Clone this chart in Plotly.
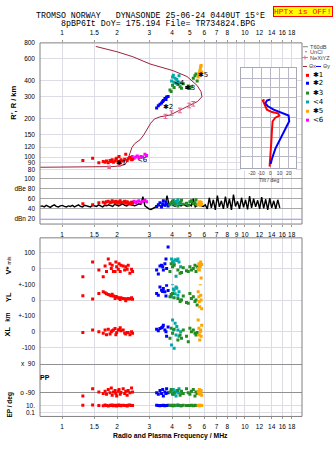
import numpy as np
import plotly.graph_objects as go

W, H = 335, 451

# ---------------- data ----------------
FREQ_TICKS = [1, 1.5, 2, 3, 4, 5, 6, 7, 8, 9, 10, 12, 14, 16, 18]
TOP_LABELS = ["1", "1.5", "2", "3", "4", "5", "6", "7", "8", "", "10", "12", "14", "16", "18"]
MID_LABELS = ["1", "1.5", "2", "3", "4", "5", "6", "7", "8", "9", "10", "12", "14", "16", "18"]
HEIGHT_TICKS = [80, 90, 100, 120, 150, 200, 300, 400, 600, 800]

# real-height / virtual profile (MHz, km)
profile_f = [0.76, 1.48, 1.9, 2.05, 2.2, 2.27, 2.33, 2.41, 2.5, 2.67, 2.8, 2.91, 3.05, 3.2, 3.43,
             3.89, 4.41, 5.0, 5.5, 5.82, 5.75, 5.47, 4.82, 4.04, 3.43, 3.03, 2.44, 2.0, 1.53]
profile_h = [83, 83, 84, 85, 87, 92, 105, 119, 128, 137, 150, 164, 185, 200, 208,
             215, 235, 258, 275, 300, 330, 369, 434, 483, 519, 545, 622, 681, 750]

# NeXtYZ points
nx_low_f = [1.81, 2.05]
nx_low_h = [83, 86]
nx_f = [3.68, 3.97, 4.41, 4.96, 5.22]
nx_h = [210, 223, 234, 256, 264]
nx_err = [8, 9, 10, 11, 11]

# echo groups
red_f = [1.30, 1.47, 1.59, 1.68, 1.72, 1.75, 1.79, 1.83, 1.86, 1.88, 1.91, 1.95, 1.97, 1.99, 2.03, 2.05, 2.08,
         2.10, 2.16, 2.20, 2.23, 2.27, 2.30, 2.35, 2.40, 2.43]
red_h = [94, 98, 90, 92, 91, 93, 90, 94, 92, 95, 91, 93, 96, 98, 92, 101, 90, 95, 93, 96, 105, 94, 97, 99, 95, 96]
red_db = [50, 48, 52, 53, 51, 54, 55, 52, 53, 56, 54, 52, 55, 53, 51, 54, 56, 52, 53, 55, 51, 54, 52, 50, 53, 51]
red_v = [-52, 40, -10, -52, 15, -20, 60, 30, 0, 20, -20, -20, 40, 10, -5, 30, -20, 20, 15, -10, 10, -5, 20, -30, -5, -20]
red_yl = [27, 6, 42, 52, 47, 40, 35, 30, 28, 37, 25, 10, 22, 20, 15, 12, 4, 14, 10, 8, -5, 6, 10, 6, 15, 5]
red_xl = [-6, 11, 0, -10, 10, -20, 15, -15, 0, 5, 10, 20, -20, -5, 10, 12, 25, 5, 10, -8, -15, -5, -5, -20, 0, -10]
red_pp = [-110, -65, -85, -95, -80, -100, -70, -90, -60, -105, -85, -75, -95, -110, -80, -70, -100, -88, -65, -95,
          -80, -105, -75, -90, -60, -85]
red_ep = [12, 15, 10, 9, 14, 11, 8, 13, 10, 16, 9, 12, 11, 8, 14, 10, 12, 9, 13, 11, 10, 8, 12, 15, 10, 11]

blue_f = [3.29, 3.36, 3.43, 3.50, 3.55, 3.58, 3.65, 3.70, 3.73, 3.80]
blue_h = [244, 255, 262, 268, 275, 280, 290, 285, 298, 302]
blue_db = [45, 48, 52, 44, 50, 56, 47, 53, 49, 46]
blue_v = [-10, -35, 15, 20, 10, -10, 30, 60, 0, 135]
blue_yl = [42, 30, 83, 62, 55, 73, 52, 25, 94, 60]
blue_xl = [15, 5, 20, 25, 30, 40, 10, 0, -30, 30]
blue_pp = [-90, -100, -75, -95, -70, -110, -85, -95, -65, -90]
blue_ep = [12, 10, 9, 11, 10, 13, 9, 11, 10, 12]

cyan_f = [3.97, 4.02, 4.06, 4.10, 4.15, 4.20, 4.24, 4.30, 4.36, 4.45]
cyan_h = [400, 430, 444, 390, 420, 383, 410, 395, 440, 385]
cyan_db = [50, 54, 57, 52, 48, 55, 53, 58, 50, 51]
cyan_v = [60, 40, 45, 30, 55, -50, 50, 60, 40, 10]
cyan_yl = [21, 104, 70, 62, 40, 83, 75, 31, 52, 0]
cyan_xl = [-85, 74, 10, -106, 53, -21, 32, 10, -30, 0]
cyan_pp = [-80, -95, -70, -100, -85, -110, -75, -90, -65, -95]
cyan_ep = [11, 10, 13, 9, 12, 10, 11, 14, 10, 9]

green_f = [3.89, 3.95, 4.02, 4.10, 4.30, 4.42, 4.50, 4.60, 4.79, 4.90, 5.00, 5.10, 5.22, 5.33, 5.40, 5.48]
green_h = [340, 330, 370, 355, 375, 360, 350, 380, 355, 365, 349, 360, 420, 440, 455, 400]
green_db = [48, 52, 55, 50, 46, 53, 57, 49, 51, 47, 54, 56, 50, 52, 58, 48]
green_v = [-20, 30, 10, 20, -10, -30, -25, 5, -15, -20, 10, -10, 0, 20, -20, 10]
green_yl = [21, 35, 42, 15, 10, -10, 0, 25, -15, -21, 42, 10, 21, -10, 0, -31]
green_xl = [-42, 21, -10, 15, -53, -21, -42, 10, -30, -64, 21, 0, 10, -10, -21, -5]
green_pp = [-85, -70, -100, -90, -75, -105, -80, -95, -65, -90, -100, -80, -70, -110, -85, -95]
green_ep = [10, 12, 9, 11, 13, 10, 9, 12, 10, 11, 10, 12, 9, 13, 10, 11]

orange_f = [5.55, 5.60, 5.63, 5.66, 5.70, 5.73, 5.76, 5.80]
orange_h = [430, 445, 460, 480, 500, 520, 530, 470]
orange_db = [48, 52, 50, 54, 47, 51, 53, 49]
orange_v = [0, 30, -10, 20, 10, 40, -60, 25]
orange_yl = [52, 21, -10, -42, 104, 30, 0, -55]
orange_xl = [74, 21, -21, -53, 0, 10, -30, 40]
orange_pp = [-80, -95, -70, -100, -85, -90, -75, -105]
orange_ep = [10, 12, 9, 11, 10, 13, 10, 11]

mag_f = [2.36, 2.42, 2.48, 2.53, 2.58, 2.63, 2.70, 2.76, 2.84, 2.90]
mag_h = [99, 101, 98, 100, 102, 99, 101, 100, 105, 103]
mag_db = [51, 53, 55, 52, 54, 56, 53, 55, 57, 54]

# sweep amplitude (dB) on the sounding frequency grid
SWEEP_START, SWEEP_END, SWEEP_N = 0.76, 15.5, 120
sweep_db = [45, 46, 44, 47, 45, 43, 46, 48, 45, 44, 46, 47, 45, 44, 46, 45, 47, 44, 46, 48, 45, 44, 47, 46, 45,
            44, 47, 46, 45, 48, 46, 44, 47,
            46, 48, 47, 45, 49, 47, 46, 48, 50, 47, 46, 49, 48, 47, 46, 48, 50, 49, 64, 46, 42, 40, 39, 41, 44,
            46, 47, 45, 48,
            46, 66, 48, 52, 47, 45, 55, 48, 46, 50, 47, 45, 49, 46, 60, 44, 47, 50, 46, 45, 48,
            40, 62, 42, 58, 38, 66, 44, 56, 40, 64, 42, 60, 38, 68, 45, 55, 40, 62, 43, 58, 39, 65, 42, 60,
            44, 57, 40, 63, 41, 59, 38, 61, 42, 56, 40, 58, 42]

# tilt profiles (deg, km)
tx_t = [-0.8, 0.3, 1.0, 1.8, 2.5, 5.4, 9.8, 8.3, 1.8, -3.7, -6.2, -8.4, -6.2]
tx_h = [84, 101, 129, 165, 192, 205, 213, 222, 227, 237, 258, 283, 280]
ty_t = [0.3, 1.8, 5.4, 10.9, 16.3, 20.6, 19.9, 12.6, 3.6, -2.6, -5.4, -3.7, 0.0]
ty_h = [88, 97, 116, 139, 165, 192, 213, 223, 237, 252, 266, 280, 286]

# echo labels in the height panel
lab_text = ["✱1", "<6", "✱2", "<4", "✱3", "✱5"]
lab_f = [2.10, 2.77, 3.80, 4.41, 5.00, 5.90]
lab_h = [89, 94, 248, 382, 350, 442]

# ---------------- styling ----------------
RED, BLUE, GREEN, CYAN, ORANGE, MAG = "#ff0000", "#0000ff", "#228b22", "#00a8a8", "#ffa500", "#ff00ff"
MAROON, PINK = "#a0203c", "#e06a90"
GRID = "#dcdce4"
FRAME = "#808080"
SANS = "Liberation Sans, Arial, sans-serif"
MONO = "Liberation Mono, DejaVu Sans Mono, monospace"

X0, X1 = 40, 302
FR = [np.log10(0.758), np.log10(20.5)]
MAIN_TOP, MAIN_BOT = 39.4, 169
YR = [1.8914, 2.9035]


def dom(top, bottom):
    return [1 - bottom / H, 1 - top / H]


def f_at(x):
    return 10 ** (FR[0] + (x - X0) / (X1 - X0) * (FR[1] - FR[0]))


def h_at(y):
    return 10 ** (YR[1] - (y - MAIN_TOP) / (MAIN_BOT - MAIN_TOP) * (YR[1] - YR[0]))


fig = go.Figure()

# white backing of the inset, inside the height panel
px0, px1, py0, py1 = 241, 296, 65, 169
fig.add_trace(go.Scatter(x=[f_at(px0), f_at(px1), f_at(px1), f_at(px0), f_at(px0)],
                         y=[h_at(py0), h_at(py0), h_at(py1), h_at(py1), h_at(py0)],
                         fill="toself", fillcolor="white", line=dict(width=0), mode="lines",
                         hoverinfo="skip", xaxis="x", yaxis="y"))

# profile
fig.add_trace(go.Scatter(x=profile_f, y=profile_h, mode="lines", line=dict(color=MAROON, width=1),
                         xaxis="x", yaxis="y"))
fig.add_trace(go.Scatter(x=nx_low_f, y=nx_low_h, mode="markers",
                         marker=dict(symbol="square", size=3.5, color=PINK), xaxis="x", yaxis="y"))
fig.add_trace(go.Scatter(x=nx_f, y=nx_h, mode="markers", marker=dict(size=2, color=PINK),
                         error_y=dict(type="data", array=nx_err, color=PINK, thickness=1, width=2),
                         xaxis="x", yaxis="y"))

groups = [
    (RED, red_f, red_h, red_db, red_v, red_yl, red_xl, red_pp, red_ep),
    (BLUE, blue_f, blue_h, blue_db, blue_v, blue_yl, blue_xl, blue_pp, blue_ep),
    (CYAN, cyan_f, cyan_h, cyan_db, cyan_v, cyan_yl, cyan_xl, cyan_pp, cyan_ep),
    (GREEN, green_f, green_h, green_db, green_v, green_yl, green_xl, green_pp, green_ep),
    (ORANGE, orange_f, orange_h, orange_db, orange_v, orange_yl, orange_xl, orange_pp, orange_ep),
]

mk = dict(symbol="square", size=3)

# sweep amplitude
sweep_f = np.geomspace(SWEEP_START, SWEEP_END, SWEEP_N)
fig.add_trace(go.Scatter(x=sweep_f, y=sweep_db, mode="lines", line=dict(color="black", width=1.4),
                         xaxis="x2", yaxis="y2"))
fig.add_trace(go.Scatter(x=mag_f, y=mag_h, mode="markers", marker=dict(color=MAG, **mk), xaxis="x", yaxis="y"))
fig.add_trace(go.Scatter(x=mag_f, y=mag_db, mode="markers", marker=dict(color=MAG, **mk), xaxis="x2", yaxis="y2"))

for col, f, h, db, v, yl, xl, pp, ep in groups:
    fig.add_trace(go.Scatter(x=f, y=h, mode="markers", marker=dict(color=col, **mk), xaxis="x", yaxis="y"))
    fig.add_trace(go.Scatter(x=f, y=db, mode="markers", marker=dict(color=col, **mk), xaxis="x2", yaxis="y2"))
    for vals, yax in ((v, "y3"), (yl, "y4"), (xl, "y5"), (pp, "y6"), (ep, "y7")):
        fig.add_trace(go.Scatter(x=f, y=vals, mode="markers", marker=dict(color=col, **mk),
                                 xaxis="x3", yaxis=yax))

# tilt inset
fig.add_trace(go.Scatter(x=tx_t, y=tx_h, mode="lines", line=dict(color=RED, width=2), xaxis="x4", yaxis="y8"))
fig.add_trace(go.Scatter(x=ty_t, y=ty_h, mode="lines", line=dict(color=BLUE, width=2), xaxis="x4", yaxis="y8"))

tickfont = dict(family=SANS, size=6.5, color="black")
common_x = dict(type="log", range=FR, domain=[X0 / W, X1 / W], tickvals=FREQ_TICKS, showgrid=True,
                gridcolor=GRID, gridwidth=1, zeroline=False, showline=False, tickfont=tickfont,
                ticks="outside", ticklen=2, tickcolor="#999", ticklabelstandoff=2, tickangle=0)


def ya(domain_px, rng, tickvals, ticktext, anchor, gridcolor=GRID, typ="linear"):
    return dict(domain=dom(*domain_px), range=rng, tickvals=tickvals, ticktext=ticktext, anchor=anchor,
                type=typ, showgrid=True, gridcolor=gridcolor, zeroline=False, showline=False,
                tickfont=tickfont, ticks="", ticklabelstandoff=4, tickangle=0)


inset_grid = [10 ** (YR[1] - (y - MAIN_TOP) / (MAIN_BOT - MAIN_TOP) * (YR[1] - YR[0]))
              for y in range(75, 166, 10)]

fig.update_layout(
    width=W, height=H, margin=dict(l=0, r=0, t=0, b=0),
    paper_bgcolor="white", plot_bgcolor="white", showlegend=False,
    xaxis=dict(**common_x, anchor="y", side="top", ticktext=TOP_LABELS),
    xaxis2=dict(**common_x, anchor="y2", side="bottom", ticktext=MID_LABELS),
    xaxis3=dict(**common_x, anchor="y7", side="bottom", ticktext=TOP_LABELS),
    xaxis4=dict(domain=[px0 / W, px1 / W], range=[-32, 28], anchor="y8", tickvals=[-20, -10, 0, 10, 20],
                ticktext=["-20", "-10", "0", "10", "20"], showgrid=True, gridcolor="#b8b8c8",
                zeroline=False, showline=True, mirror=True, linecolor="#a8a8b8", tickangle=0,
                tickfont=dict(family=SANS, size=4.8, color="#333"), ticks="", ticklabelstandoff=0),
    yaxis=ya((MAIN_TOP, MAIN_BOT), YR, HEIGHT_TICKS, [str(t) for t in HEIGHT_TICKS], "x", typ="log"),
    yaxis2=ya((169, 223), [10.3, 115.1], [100, 80, 60, 40, 20], ["100", "dBe 80", "60", "40", "dBn 20"],
              "x2", gridcolor="#a8a8a8"),
    yaxis3=ya((237, 284), [-100, 193.75], [100, 0], ["100", "0"], "x3"),
    yaxis4=ya((284, 316), [-100, 100.5], [100, 0], ["+-100", "0"], "x3"),
    yaxis5=ya((316, 356), [-150, 100.5], [100, 0, -100], ["+-100", "0", "-100"], "x3"),
    yaxis6=ya((356, 400), [-127.2, 145.9], [90, -90], ["x  90", "o -90"], "x3", gridcolor="#909090"),
    yaxis7=ya((400, 418), [-2.14, 3.0], [10, 0.1], ["10.", "0.1"], "x3", typ="log"),
    yaxis8=dict(domain=dom(65, 166), type="log", range=[1.9148, 2.7039], anchor="x4", tickvals=inset_grid,
                showticklabels=False, showgrid=True, gridcolor="#b8b8c8", zeroline=False,
                showline=True, mirror=True, linecolor="#a8a8b8", ticks=""),
)

shapes = [
    dict(type="rect", xref="paper", yref="paper", x0=X0 / W, x1=X1 / W, y0=1 - 223 / H, y1=1 - MAIN_TOP / H,
         line=dict(color=FRAME, width=1)),
    dict(type="rect", xref="paper", yref="paper", x0=X0 / W, x1=X1 / W, y0=1 - 418 / H, y1=1 - 237 / H,
         line=dict(color=FRAME, width=1)),
    dict(type="line", xref="paper", yref="y2", x0=X0 / W, x1=X1 / W, y0=20, y1=20,
         line=dict(color="#b4b4ec", width=1)),
]


def ann(x, y, text, size=7, color="black", anchor="center", angle=0, family=SANS, **kw):
    d = dict(x=x / W, y=1 - y / H, xref="paper", yref="paper", text=text, showarrow=False,
             font=dict(family=family, size=size, color=color), xanchor=anchor, yanchor="middle",
             textangle=angle, borderpad=0)
    d.update(kw)
    return d


annotations = [
    ann(35, 12, "TROMSO NORWAY   DYNASONDE 25-06-24 0440UT 15°E", size=8.3, anchor="left", family=MONO),
    ann(60, 20, "8pBP6It DoY= 175.194 File= TR734824.BPG", size=8.3, anchor="left", family=MONO),
    ann(302.5, 8, "HPTx is OFF!", size=8, color="red", family=MONO, bgcolor="#ffff00",
        bordercolor="red", borderwidth=1),
    ann(14, 100, "<b>R', R / km</b>", size=7.5, angle=-90),
    ann(8, 265, "<b>V*</b> <span style='font-size:5px'>m/s</span>", size=7.5, angle=-90),
    ann(8, 297, "<b>YL</b>", size=7.5, angle=-90),
    ann(8, 317, "<b>km</b>", size=6.5, angle=-90),
    ann(8, 332, "<b>XL</b>", size=7.5, angle=-90),
    ann(45, 379, "<b>PP</b>", size=7),
    ann(10, 406, "<b>EP / deg</b>", size=6.5, angle=-90),
    ann(170, 438, "<b>Radio and Plasma Frequency / MHz</b>", size=6.8),
    ann(269, 178.5, "Tilt / deg", size=5.3, color="#333"),
]

for t, f, h in zip(lab_text, lab_f, lab_h):
    annotations.append(dict(x=np.log10(f), y=np.log10(h), xref="x", yref="y", text=t, showarrow=False,
                            font=dict(family="DejaVu Sans, sans-serif", size=7, color="black")))

# legend (drawn by hand)
LF = 5.6
shapes.append(dict(type="line", xref="paper", yref="paper", x0=303 / W, x1=308 / W,
                   y0=1 - 43.3 / H, y1=1 - 43.3 / H, line=dict(color="#888", width=1)))
annotations.append(ann(309, 43.3, "T60dB", size=LF, color="#444", anchor="left"))
shapes.append(dict(type="rect", xref="paper", yref="paper", x0=305.5 / W, x1=306.5 / W,
                   y0=1 - 48.8 / H, y1=1 - 47.8 / H, fillcolor="black", line=dict(width=0)))
annotations.append(ann(309, 48.5, "UnCl", size=LF, color="#444", anchor="left"))
shapes.append(dict(type="line", xref="paper", yref="paper", x0=302 / W, x1=308 / W,
                   y0=1 - 54.3 / H, y1=1 - 54.3 / H, line=dict(color=PINK, width=1)))
shapes.append(dict(type="line", xref="paper", yref="paper", x0=305 / W, x1=305 / W,
                   y0=1 - 56.3 / H, y1=1 - 52.3 / H, line=dict(color=PINK, width=1)))
annotations.append(ann(309, 54.3, "NeXtYZ", size=LF, color="#444", anchor="left"))
shapes.append(dict(type="line", xref="paper", yref="paper", x0=303 / W, x1=307 / W,
                   y0=1 - 63.3 / H, y1=1 - 63.3 / H, line=dict(color=MAROON, width=1)))
annotations.append(ann(307.5, 63.3, "Θx", size=LF, color="#444", anchor="left"))
shapes.append(dict(type="line", xref="paper", yref="paper", x0=316 / W, x1=321 / W,
                   y0=1 - 63.3 / H, y1=1 - 63.3 / H, line=dict(color=BLUE, width=1)))
annotations.append(ann(321.5, 63.3, "Θy", size=LF, color="#444", anchor="left"))

leg_cols = [RED, BLUE, GREEN, CYAN, ORANGE, MAG]
leg_txt = ["✱1", "✱2", "✱3", "<4", "✱5", "<6"]
leg_y = [72.3, 80.3, 90.3, 99.3, 108.7, 117.7]
for c, t, y in zip(leg_cols, leg_txt, leg_y):
    shapes.append(dict(type="rect", xref="paper", yref="paper", x0=306 / W, x1=309 / W,
                       y0=1 - (y + 1.5) / H, y1=1 - (y - 1.5) / H, fillcolor=c, line=dict(width=0)))
    annotations.append(ann(311.5, y, t, size=7, color="black", anchor="left",
                           family="DejaVu Sans, sans-serif"))

fig.update_layout(shapes=shapes, annotations=annotations)
fig.write_html("out.html")
